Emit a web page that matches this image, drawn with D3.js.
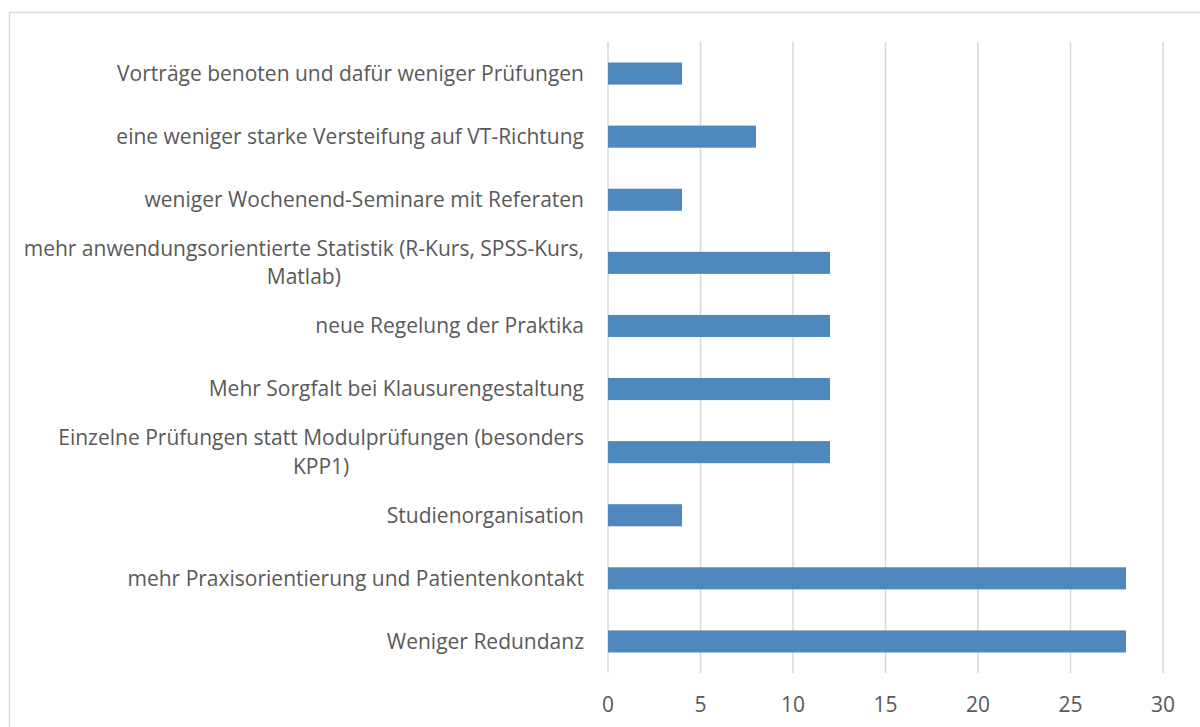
<!DOCTYPE html>
<html>
<head>
<meta charset="utf-8">
<script src="https://cdn.jsdelivr.net/npm/d3@7"></script>
<style>
  body { margin: 0; background: #fff; }
  svg { display: block; }
  text { font-family: "Open Sans", Lato, sans-serif; fill: #595959; }
</style>
</head>
<body>
<div id="chart"></div>
<script>
// chart data, top to bottom
var categories = [
    "Vorträge benoten und dafür weniger Prüfungen",
    "eine weniger starke Versteifung auf VT-Richtung",
    "weniger Wochenend-Seminare mit Referaten",
    "mehr anwendungsorientierte Statistik (R-Kurs, SPSS-Kurs, Matlab)",
    "neue Regelung der Praktika",
    "Mehr Sorgfalt bei Klausurengestaltung",
    "Einzelne Prüfungen statt Modulprüfungen (besonders KPP1)",
    "Studienorganisation",
    "mehr Praxisorientierung und Patientenkontakt",
    "Weniger Redundanz"
];
var values = [4, 8, 4, 12, 12, 12, 12, 4, 28, 28];
var xTicks = [0, 5, 10, 15, 20, 25, 30];

var width = 1200, height = 727;
var margin = { top: 42, right: 37, bottom: 54, left: 608 };
var fontSize = "21px";

var svg = d3.select("#chart")
    .append("svg")
    .attr("width", width)
    .attr("height", height);

// chart frame
svg.append("rect")
    .attr("x", 9.5)
    .attr("y", 12.5)
    .attr("width", width)
    .attr("height", height)
    .attr("fill", "none")
    .attr("stroke", "#d9d9d9")
    .attr("stroke-width", 1.5);

var x = d3.scaleLinear()
    .domain([0, 30])
    .range([margin.left, width - margin.right]);

var y = d3.scaleBand()
    .domain(categories)
    .range([margin.top, height - margin.bottom])
    .paddingInner(0.65)
    .paddingOuter(0.325);

// vertical gridlines
svg.append("g")
    .selectAll("line")
    .data(xTicks)
    .enter().append("line")
    .attr("x1", d => x(d))
    .attr("x2", d => x(d))
    .attr("y1", margin.top)
    .attr("y2", height - margin.bottom)
    .attr("stroke", "#d9d9d9")
    .attr("stroke-width", 1.5);

// x tick labels
svg.append("g")
    .selectAll("text")
    .data(xTicks)
    .enter().append("text")
    .attr("x", d => x(d))
    .attr("y", 705)
    .attr("dy", "0.35em")
    .attr("text-anchor", "middle")
    .style("font-size", fontSize)
    .text(d => d);

// bars
svg.append("g")
    .selectAll("rect")
    .data(values)
    .enter().append("rect")
    .attr("x", x(0))
    .attr("y", (d, i) => y(categories[i]))
    .attr("width", d => x(d) - x(0))
    .attr("height", y.bandwidth())
    .attr("fill", "#4f88bc");

// category labels, wrapped like the original
var maxLabelWidth = 575;
var labels = svg.append("g")
    .selectAll("text")
    .data(categories)
    .enter().append("text")
    .style("font-size", fontSize)
    .attr("text-anchor", "middle");

labels.each(function(d) {
    var el = d3.select(this);
    var words = d.split(" ");
    var lines = [];
    var line = [];
    var probe = el.append("tspan");
    words.forEach(w => {
        line.push(w);
        probe.text(line.join(" "));
        if (probe.node().getComputedTextLength() > maxLabelWidth && line.length > 1) {
            line.pop();
            lines.push(line.join(" "));
            line = [w];
        }
    });
    lines.push(line.join(" "));
    probe.remove();

    // block is right aligned, lines centred within it
    var widths = lines.map(l => {
        var t = el.append("tspan").text(l);
        var w = t.node().getComputedTextLength();
        t.remove();
        return w;
    });
    var blockW = d3.max(widths);
    var cx = margin.left - 24 - blockW / 2;
    var cy = y(d) + y.bandwidth() / 2;
    var lh = 28.5;
    lines.forEach((l, i) => {
        el.append("tspan")
            .attr("x", cx)
            .attr("y", cy + (i - (lines.length - 1) / 2) * lh)
            .attr("dy", "0.35em")
            .text(l);
    });
});
</script>
</body>
</html>
